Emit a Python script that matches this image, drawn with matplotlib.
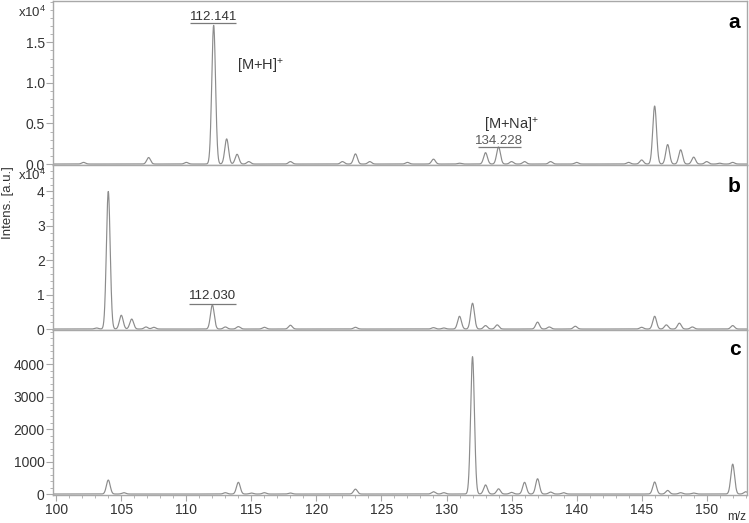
"""MALDI spectra, three stacked panels (a, b, c)."""
import matplotlib
matplotlib.use("Agg")
import matplotlib.pyplot as plt
import numpy as np
from matplotlib.ticker import FixedLocator, FuncFormatter, MultipleLocator

plt.rcParams["font.family"] = ["Liberation Sans", "DejaVu Sans"]
plt.rcParams["mathtext.fontset"] = "custom"
plt.rcParams["mathtext.rm"] = "Liberation Sans"
plt.rcParams["mathtext.it"] = "Liberation Sans"
plt.rcParams["mathtext.default"] = "rm"

# peak tables (m/z, intensity)
a_mz = [102.1, 107.1, 110.0, 112.1, 113.1, 113.9, 114.8, 118.0, 122.0, 123.0, 124.1,
        127.0, 129.0, 131.0, 133.0, 134.0, 135.0, 136.0, 138.0, 140.0, 144.0, 145.0,
        146.0, 147.0, 148.0, 149.0, 150.0, 151.0, 152.0]
a_int = [200, 800, 200, 17100, 3100, 1200, 300, 300, 300, 1250, 300,
         200, 600, 100, 1400, 2100, 300, 300, 300, 200, 200, 500,
         7150, 2400, 1750, 850, 300, 100, 200]

b_mz = [103.1, 104.0, 105.0, 105.8, 106.9, 107.5, 112.0, 113.0, 114.0, 116.0, 118.0,
        123.0, 129.0, 129.8, 131.0, 132.0, 133.0, 133.9, 137.0, 137.9, 139.9, 145.0,
        146.0, 146.9, 147.9, 148.9, 152.0]
b_int = [300, 40000, 4000, 2900, 600, 500, 7000, 600, 700, 500, 1100,
         500, 400, 300, 3700, 7500, 1000, 1200, 2000, 600, 800, 500,
         3700, 1200, 1700, 600, 1000]

c_mz = [104.0, 105.2, 113.0, 114.0, 115.0, 116.0, 118.0, 123.0, 129.0, 129.8, 132.0,
        133.0, 134.0, 135.0, 136.0, 137.0, 138.0, 139.0, 146.0, 147.0, 148.0, 149.0,
        152.0, 153.0]
c_int = [430, 40, 40, 360, 30, 40, 30, 150, 70, 40, 4230,
         280, 160, 50, 360, 470, 60, 40, 370, 110, 40, 30,
         920, 70]

x_major = [100, 105, 110, 115, 120, 125, 130, 135, 140, 145, 150]
a_yticks = [0, 5000, 10000, 15000]
b_yticks = [0, 10000, 20000, 30000, 40000]
c_yticks = [0, 1000, 2000, 3000, 4000]

# labelled peaks: (panel, text, x, y, underline y, underline x0, x1)
peak_labels = [
    (0, "112.141", 112.1, 18150, 17350, 110.3, 113.8),
    (0, "134.228", 134.0, 2800, 2150, 132.4, 135.7),
    (1, "112.030", 112.0, 9650, 7250, 110.2, 113.8),
]
ion_labels = [
    (0, "[M+H]$^{+}$", 113.9, 12000),
    (0, "[M+Na]$^{+}$", 132.9, 4800),
]

LINE = "#8c8c8c"
SPINE = "#a8a8a8"
TXT = "#333333"


def spectrum(x, mz, inten, width=0.145):
    y = np.zeros_like(x)
    for c, h in zip(mz, inten):
        y += h * np.exp(-0.5 * ((x - c) / width) ** 2)
    return y


fig = plt.figure(figsize=(7.49, 5.23), dpi=100)
W, H = 749, 523
left, right = 53 / W, 747 / W
edges = [1, 165, 330, 495]
ylims = [20100, 47700, 5050]
yticks = [a_yticks, b_yticks, c_yticks]
minors = [1000, 2000, 200]
fmts = [lambda v, p: f"{v / 1e4:.1f}",
        lambda v, p: f"{v / 1e4:.0f}",
        lambda v, p: f"{v:.0f}"]
letters = ["a", "b", "c"]
tables = [(a_mz, a_int), (b_mz, b_int), (c_mz, c_int)]

xs = np.linspace(99.75, 153.1, 6000)
axes = []
for i in range(3):
    bottom = 1 - edges[i + 1] / H
    height = (edges[i + 1] - edges[i]) / H
    ax = fig.add_axes([left, bottom, right - left, height])
    axes.append(ax)
    mz, inten = tables[i]
    ax.plot(xs, spectrum(xs, mz, inten), color=LINE, lw=0.85)
    ax.set_xlim(99.75, 153.1)
    ax.set_ylim(-0.006 * ylims[i], ylims[i])
    ax.yaxis.set_major_locator(FixedLocator(yticks[i]))
    ax.yaxis.set_minor_locator(MultipleLocator(minors[i]))
    ax.yaxis.set_major_formatter(FuncFormatter(fmts[i]))
    ax.xaxis.set_major_locator(MultipleLocator(5))
    ax.xaxis.set_minor_locator(MultipleLocator(1))
    for s in ax.spines.values():
        s.set_color(SPINE)
        s.set_linewidth(1.0)
    ax.tick_params(axis="y", which="major", length=5, width=0.8, color=SPINE,
                   labelsize=10, labelcolor=TXT, pad=1)
    ax.tick_params(axis="y", which="minor", length=2.5, width=0.6, color=SPINE)
    if i < 2:
        ax.tick_params(axis="x", which="both", bottom=False, labelbottom=False)
    else:
        ax.tick_params(axis="x", which="major", length=4, width=0.8, color=SPINE,
                       labelsize=10, labelcolor=TXT, pad=2)
        ax.tick_params(axis="x", which="minor", length=2.5, width=0.6, color=SPINE)
        ax.set_xticks(x_major)
    ax.text(0.982, 0.87 if i < 2 else 0.88, letters[i], transform=ax.transAxes,
            ha="center", va="center", fontsize=15, fontweight="bold", color="black")

for p, txt, x, y, uy, x0, x1 in peak_labels:
    ax = axes[p]
    col = TXT if txt != "134.228" else "#5a5a5a"
    ax.text(x, y, txt, ha="center", va="center", fontsize=9.5, color=col)
    ax.hlines(uy, x0, x1, color="#7a7a7a", lw=0.9)

for p, txt, x, y in ion_labels:
    axes[p].text(x, y, txt, ha="left", va="center", fontsize=10.5, color=TXT)

fig.text(32 / W, 1 - 12 / H, "x10$^{4}$", ha="center", va="center", fontsize=9.5, color=TXT)
fig.text(32 / W, 1 - 175 / H, "x10$^{4}$", ha="center", va="center", fontsize=9.5, color=TXT)
fig.text(8 / W, 1 - 203 / H, "Intens. [a.u.]", rotation=90, ha="center", va="center",
         fontsize=9.5, color=TXT)
fig.text(737 / W, 1 - 517 / H, "m/z", ha="center", va="center", fontsize=8.5, color=TXT)

fig.savefig("out.png", dpi=100)
